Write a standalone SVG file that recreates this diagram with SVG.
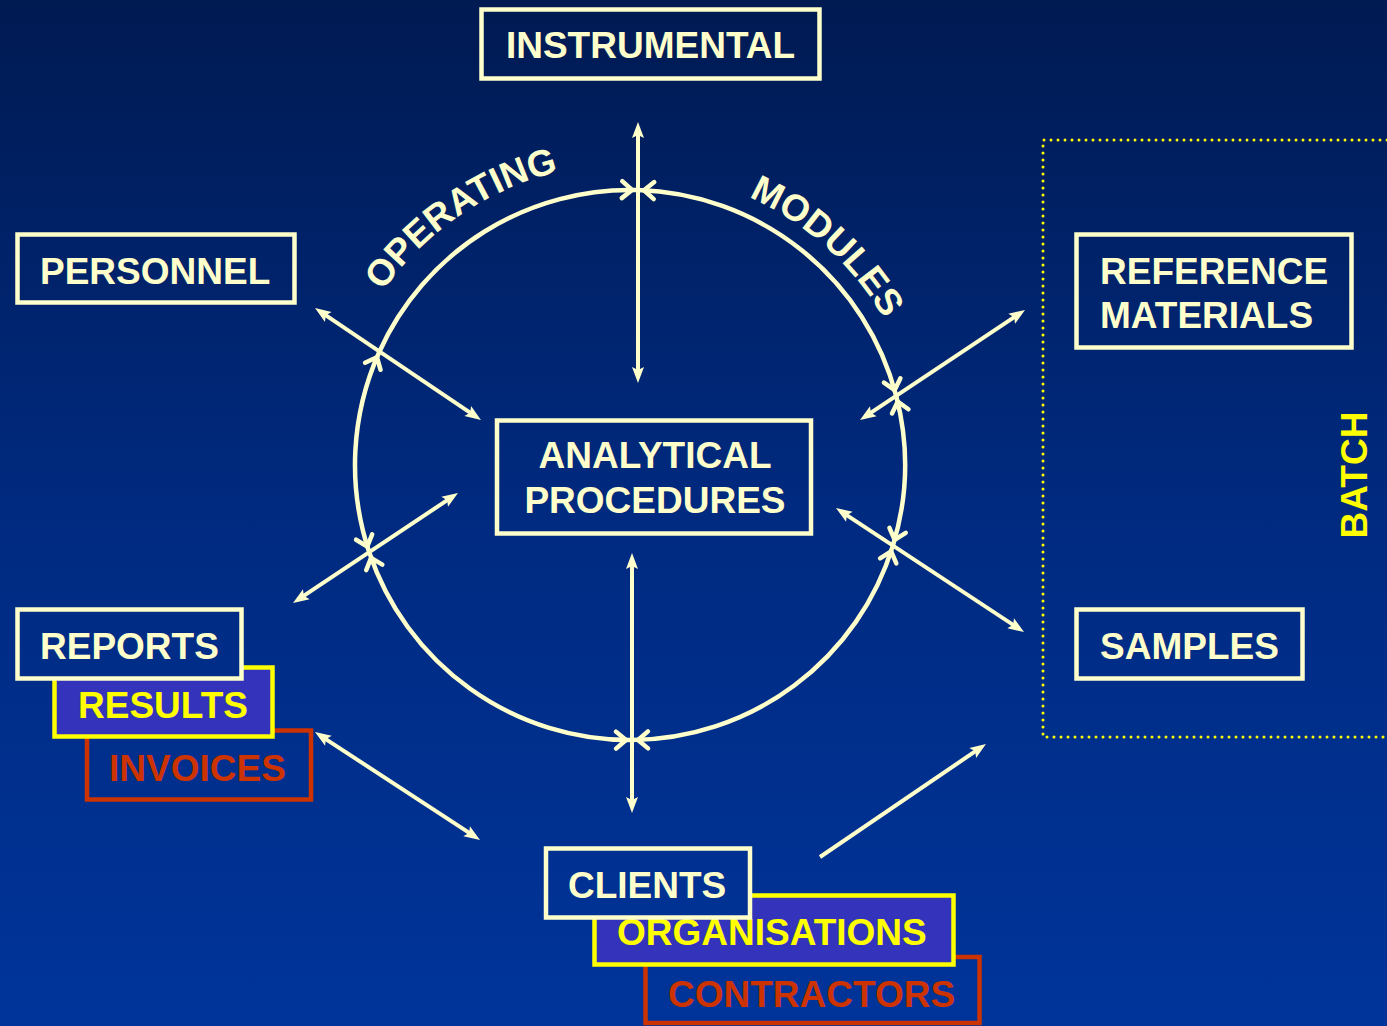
<svg xmlns="http://www.w3.org/2000/svg" width="1387" height="1026" viewBox="0 0 1387 1026">
<defs>
<linearGradient id="bg" gradientUnits="userSpaceOnUse" x1="0" y1="0" x2="0" y2="1026">
<stop offset="0" stop-color="#001a52"/>
<stop offset="0.5" stop-color="#002a80"/>
<stop offset="1" stop-color="#00349a"/>
</linearGradient>
<marker id="ah" markerUnits="userSpaceOnUse" markerWidth="20" markerHeight="20" refX="0" refY="0" orient="auto-start-reverse" overflow="visible">
<path d="M6,0 L-10,-6 L-7,0 L-10,6 Z" fill="#FFFFCC"/>
</marker>
<marker id="cv" markerUnits="userSpaceOnUse" markerWidth="20" markerHeight="20" refX="6" refY="0" orient="auto-start-reverse" overflow="visible">
<path d="M-10,-8.5 L0,0 L-10,8.5" fill="none" stroke="#FFFFCC" stroke-width="4.5" stroke-linecap="round" stroke-linejoin="round"/>
</marker>
<path id="tpOp" d="M 333.3 408.9 A 302 302 0 0 1 686.1 168.3" fill="none"/>
<path id="tpMod" d="M 614.7 172.4 A 293 293 0 0 1 922.6 449.7" fill="none"/>
</defs>
<style>
text{font-family:"Liberation Sans",Arial,sans-serif;font-weight:bold;font-size:37px}
.t{fill:#FFFFCC}
.y{fill:#FFFF00}
.r{fill:#CC3300}
.box{fill:url(#bg);stroke:#FFFFCC;stroke-width:4.5}
.ybox{fill:#3333BB;stroke:#FFFF00;stroke-width:4.5}
.rbox{fill:url(#bg);stroke:#CC3300;stroke-width:4.5}
.ln{fill:none;stroke:#FFFFCC;stroke-width:4}
.arc{fill:none;stroke:#FFFFCC;stroke-width:4.5}
</style>
<rect x="0" y="0" width="1387" height="1026" fill="url(#bg)"/>

<g id="batch">
<path d="M1387,140 H1043 V737 H1387" fill="none" stroke="#FFFF00" stroke-width="3" stroke-dasharray="0 7" stroke-linecap="round"/>
<text class="y" transform="translate(1367,475) rotate(-90)" text-anchor="middle">BATCH</text>
</g>

<g id="connectors">
<path class="arc" d="M379.4,351.7 A275,275 0 0 1 638,190.1" marker-end="url(#cv)"/>
<path class="arc" d="M638,190.1 A275,275 0 0 1 896.2,395.9" marker-start="url(#cv)" marker-end="url(#cv)"/>
<path class="arc" d="M896.2,395.9 A275,275 0 0 1 892.9,545.6" marker-start="url(#cv)" marker-end="url(#cv)"/>
<path class="arc" d="M892.9,545.6 A275,275 0 0 1 632,740" marker-start="url(#cv)" marker-end="url(#cv)"/>
<path class="arc" d="M632,740 A275,275 0 0 1 369.2,552.2" marker-start="url(#cv)" marker-end="url(#cv)"/>
<path class="arc" d="M369.2,552.2 A275,275 0 0 1 379.4,351.7" marker-start="url(#cv)" marker-end="url(#cv)"/>

<path class="ln" d="M638,377 L638,128" marker-start="url(#ah)" marker-end="url(#ah)"/>
<path class="ln" d="M632,559 L632,807" marker-start="url(#ah)" marker-end="url(#ah)"/>
<path class="ln" d="M320,311.4 L476,416.6" marker-start="url(#ah)" marker-end="url(#ah)"/>
<path class="ln" d="M298,599.7 L453,496.3" marker-start="url(#ah)" marker-end="url(#ah)"/>
<path class="ln" d="M865,416.7 L1020,313.3" marker-start="url(#ah)" marker-end="url(#ah)"/>
<path class="ln" d="M841,511.3 L1019,628.7" marker-start="url(#ah)" marker-end="url(#ah)"/>
<path class="ln" d="M320,735.3 L475,836.7" marker-start="url(#ah)" marker-end="url(#ah)"/>
<path class="ln" d="M820,857 L981,747.4" marker-end="url(#ah)"/>
</g>

<g id="labels">
<text class="t" font-size="36"><textPath href="#tpOp" startOffset="50%" text-anchor="middle">OPERATING</textPath></text>
<text class="t" font-size="36"><textPath href="#tpMod" startOffset="50%" text-anchor="middle">MODULES</textPath></text>
</g>

<g id="instrumental">
<rect class="box" x="481.5" y="9.5" width="338" height="69"/>
<text class="t" x="650.5" y="57.5" text-anchor="middle">INSTRUMENTAL</text>
</g>
<g id="personnel">
<rect class="box" x="17.5" y="234.5" width="277" height="68"/>
<text class="t" x="40" y="283.5">PERSONNEL</text>
</g>
<g id="analytical">
<rect class="box" x="497" y="420.5" width="314" height="113"/>
<text class="t" x="655" y="467.5" text-anchor="middle">ANALYTICAL</text>
<text class="t" x="655" y="512.5" text-anchor="middle">PROCEDURES</text>
</g>
<g id="reference">
<rect class="box" x="1076.5" y="234.5" width="275" height="113"/>
<text class="t" x="1100" y="283.5">REFERENCE</text>
<text class="t" x="1100" y="327.5">MATERIALS</text>
</g>
<g id="samples">
<rect class="box" x="1076.5" y="609.5" width="226" height="69"/>
<text class="t" x="1100" y="658.5">SAMPLES</text>
</g>

<g id="invoices">
<rect class="rbox" x="87" y="730.5" width="224" height="69"/>
<text class="r" x="109" y="780.5">INVOICES</text>
</g>
<g id="results">
<rect class="ybox" x="54.5" y="667.5" width="218" height="69"/>
<text class="y" x="78" y="717.5">RESULTS</text>
</g>
<g id="reports">
<rect class="box" x="17.5" y="609.5" width="224" height="69"/>
<text class="t" x="40" y="658.5">REPORTS</text>
</g>

<g id="contractors">
<rect class="rbox" x="645.5" y="957" width="334" height="66"/>
<text class="r" x="668" y="1006.5">CONTRACTORS</text>
</g>
<g id="organisations">
<rect class="ybox" x="594.5" y="895.5" width="359" height="69"/>
<text class="y" x="617" y="944.5">ORGANISATIONS</text>
</g>
<g id="clients">
<rect class="box" x="546" y="848.5" width="204" height="69"/>
<text class="t" x="568" y="897.5">CLIENTS</text>
</g>
</svg>
